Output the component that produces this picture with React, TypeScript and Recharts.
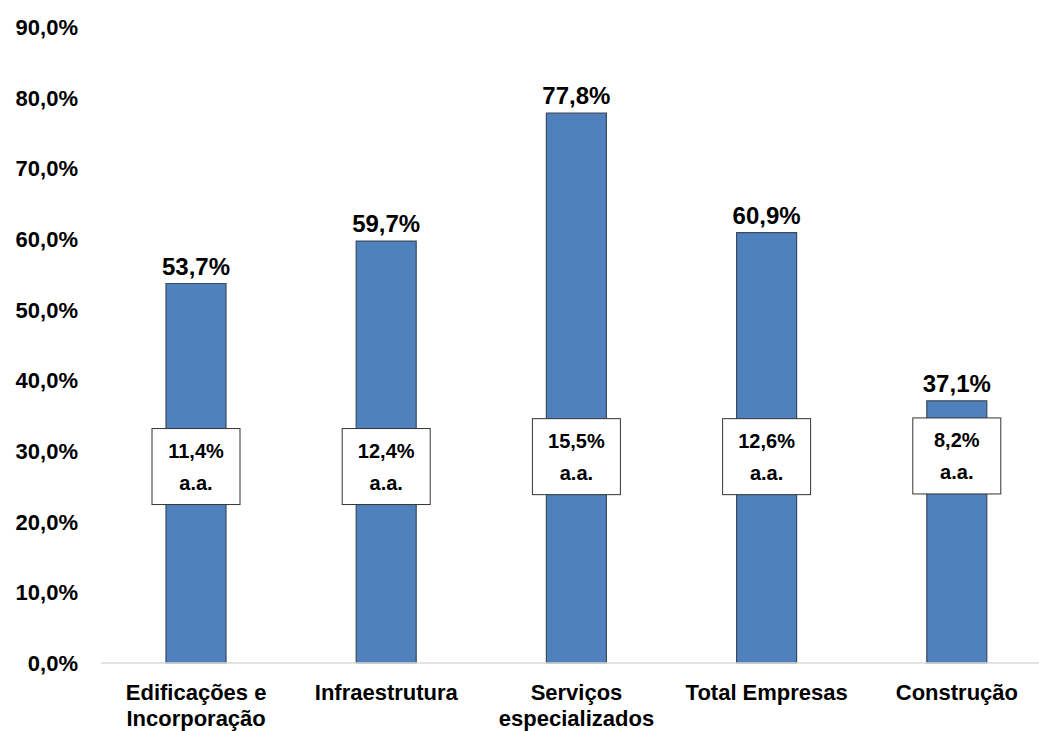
import React from 'react';
import { BarChart, Bar, XAxis, YAxis, LabelList } from 'recharts';

const categories = ['Edificações e\nIncorporação', 'Infraestrutura', 'Serviços\nespecializados', 'Total Empresas', 'Construção'];
const growth = [53.7, 59.7, 77.8, 60.9, 37.1];
const annualRate = [11.4, 12.4, 15.5, 12.6, 8.2];
const yTicks = [0, 10, 20, 30, 40, 50, 60, 70, 80, 90];

// where the "a.a." boxes sit, in % units on the y axis
const boxCenter = [27.8, 27.8, 29.2, 29.2, 29.3];

const data = categories.map((name, i) => ({ name, growth: growth[i], rate: annualRate[i] }));

const FONT = '"Liberation Sans", Arial, sans-serif';
const fmt = (v: number) => v.toFixed(1).replace('.', ',') + '%';

function XTick(props: any) {
  const { x, y, payload } = props;
  const lines = String(payload.value).split('\n');
  return (
    <text x={x} y={y} textAnchor="middle" fontFamily={FONT} fontWeight="bold" fontSize={22} fill="#000">
      {lines.map((l, i) => (
        <tspan key={i} x={x} dy={i === 0 ? 29 : 26}>{l}</tspan>
      ))}
    </text>
  );
}

function YTick(props: any) {
  const { x, y, payload } = props;
  return (
    <text x={x} y={y} dy={8} textAnchor="end" fontFamily={FONT} fontWeight="bold" fontSize={22} fill="#000">
      {fmt(payload.value)}
    </text>
  );
}

function TopLabel(props: any) {
  const { x, y, width, value } = props;
  return (
    <text x={x + width / 2} y={y - 9} textAnchor="middle" fontFamily={FONT} fontWeight="bold" fontSize={24} fill="#000">
      {fmt(value)}
    </text>
  );
}

function RateBox(props: any) {
  const { x, y, width, height, index } = props;
  const v = growth[index];
  const cy = y + height - (height * boxCenter[index]) / v;
  const cx = x + width / 2;
  const w = 88;
  const h = 76;
  return (
    <g>
      <rect x={cx - w / 2} y={cy - h / 2} width={w} height={h} fill="#fff" stroke="#333" strokeWidth={1} />
      <text x={cx} y={cy - 9} textAnchor="middle" fontFamily={FONT} fontWeight="bold" fontSize={20} fill="#000">
        {fmt(annualRate[index])}
      </text>
      <text x={cx} y={cy + 23} textAnchor="middle" fontFamily={FONT} fontWeight="bold" fontSize={20} fill="#000">
        a.a.
      </text>
    </g>
  );
}

export default function App() {
  return (
    <div style={{ position: 'absolute', left: 0, top: 0, width: 1039, height: 731, overflow: 'hidden', background: '#fff' }}>
      <BarChart width={1052} height={731} data={data} margin={{ top: 27, right: 0, left: 0, bottom: 0 }} barSize={60}>
        <XAxis
          dataKey="name"
          axisLine={{ stroke: '#d9d9d9', strokeWidth: 1.5 }}
          tickLine={false}
          tick={<XTick />}
          interval={0}
          height={68}
        />
        <YAxis
          domain={[0, 90]}
          ticks={yTicks}
          axisLine={false}
          tickLine={false}
          tickSize={0}
          tickMargin={23}
          width={101}
          tick={<YTick />}
        />
        <Bar dataKey="growth" fill="#4F81BD" stroke="#3a4a60" strokeWidth={1.2} isAnimationActive={false}>
          <LabelList dataKey="growth" content={<TopLabel />} />
          <LabelList dataKey="rate" content={<RateBox />} />
        </Bar>
      </BarChart>
    </div>
  );
}
